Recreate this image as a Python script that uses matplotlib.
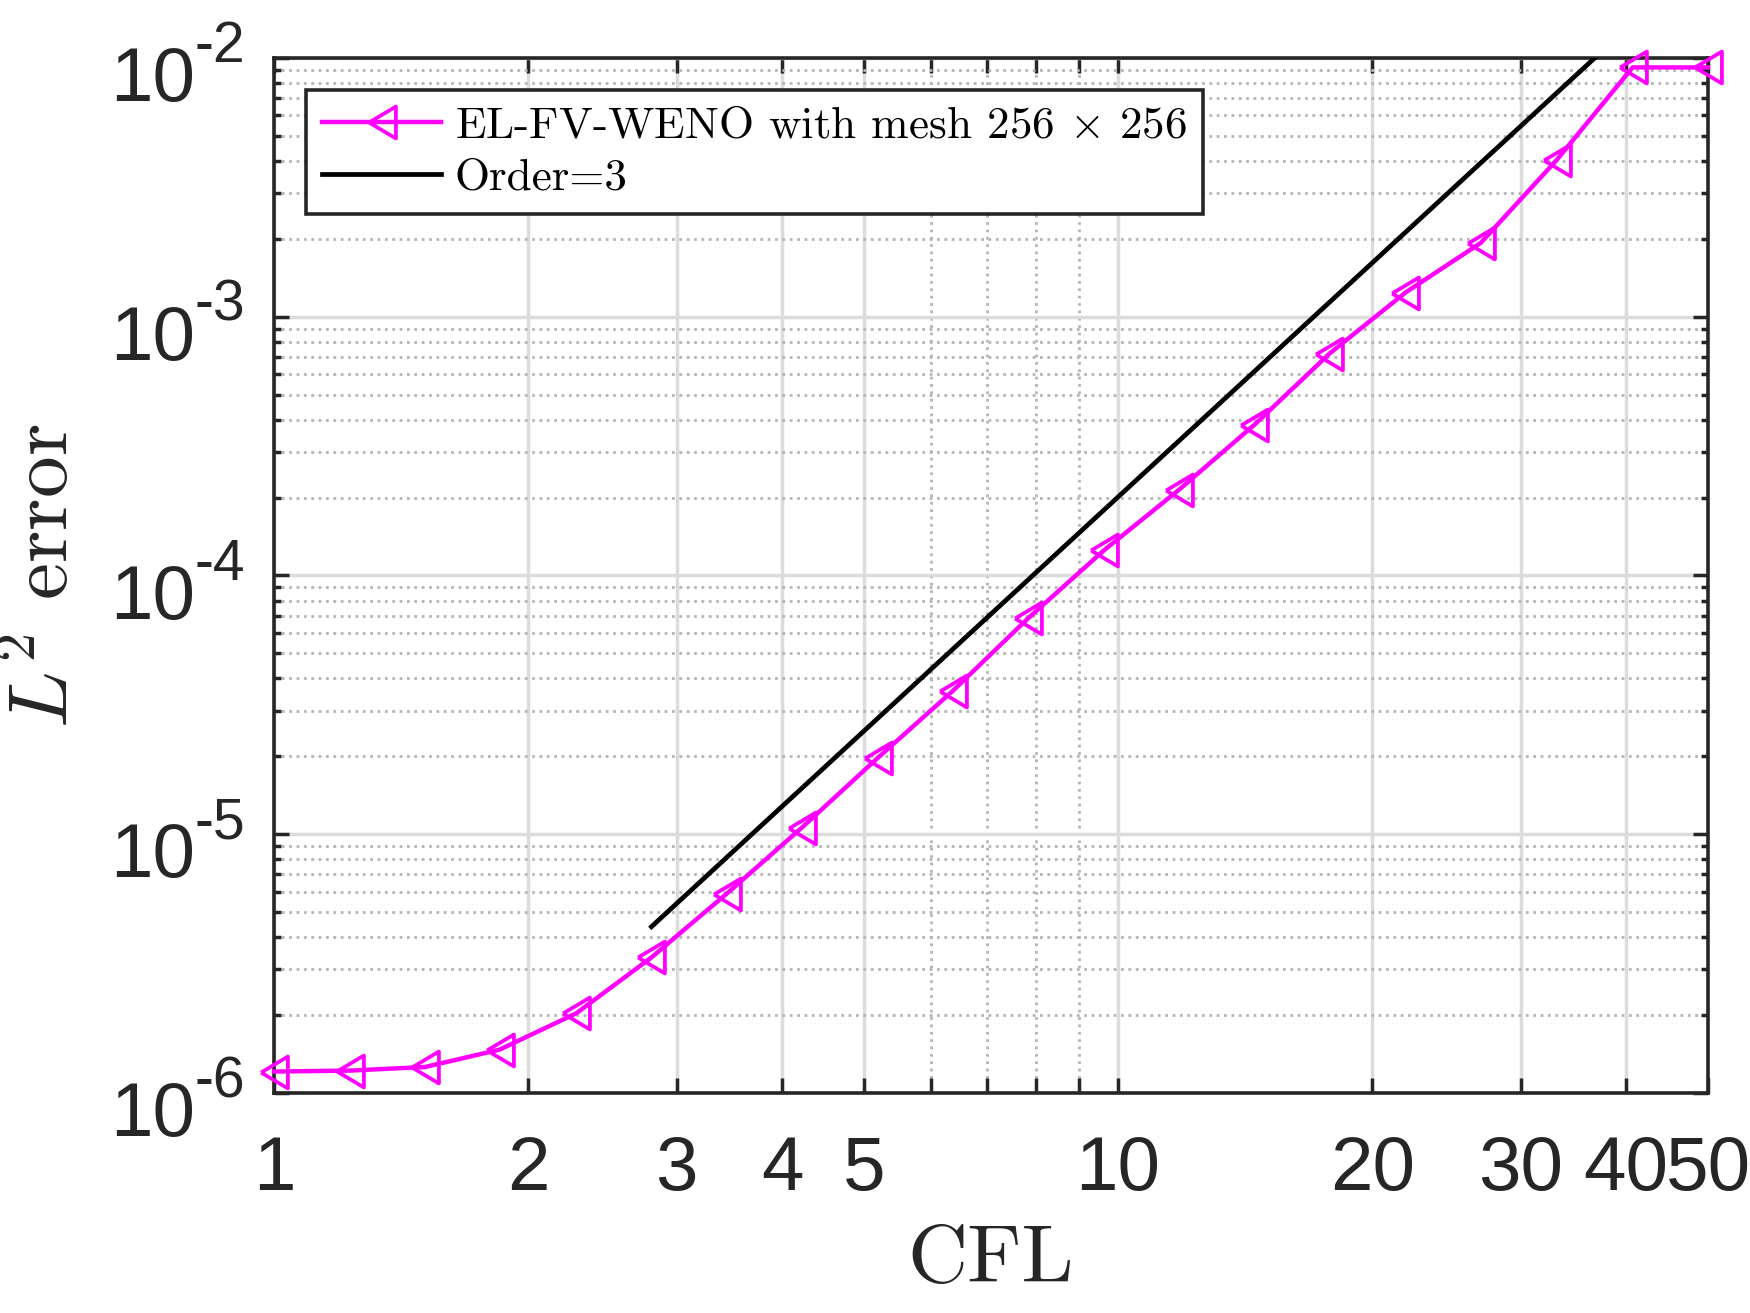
import numpy as np
import matplotlib
matplotlib.use('Agg')
import matplotlib.pyplot as plt
from matplotlib import ticker

# data
cfl = [1.0, 1.23, 1.51, 1.85, 2.28, 2.80, 3.44, 4.22, 5.19, 6.37,
       7.83, 9.62, 11.8, 14.5, 17.8, 21.9, 26.9, 33.1, 40.7, 50.0]
l2_err = [1.21e-6, 1.22e-6, 1.26e-6, 1.47e-6, 2.03e-6, 3.34e-6, 5.90e-6, 1.06e-5,
          1.97e-5, 3.58e-5, 6.85e-5, 1.25e-4, 2.14e-4, 3.82e-4, 7.2e-4, 1.24e-3,
          1.93e-3, 4.04e-3, 9.2e-3, 9.2e-3]

# reference slope-3 line
order_x = [2.80, 36.7]
order_y = [4.39e-6, 1.0e-2]

xticks = [1, 2, 3, 4, 5, 10, 20, 30, 40, 50]
xticklabels = ['1', '2', '3', '4', '5', '10', '20', '30', '40', '50']
xminor = [6, 7, 8, 9]
ydecades = [-6, -5, -4, -3, -2]

plt.rcParams['mathtext.fontset'] = 'cm'
plt.rcParams['font.family'] = ['Liberation Sans', 'DejaVu Sans']

dark = '#262626'
magenta = '#ff00ff'

fig = plt.figure(figsize=(17.5, 13.13), dpi=100)
ax = fig.add_axes([0.1566, 0.1676, 0.8194, 0.7882])
ax.set_xscale('log')
ax.set_yscale('log')
ax.set_xlim(1, 50)
ax.set_ylim(1e-6, 1e-2)

# triangle pointing left, a bit narrower than tall
tri = [(-0.84, 0.0), (0.84, 1.0), (0.84, -1.0), (-0.84, 0.0)]
ax.plot(cfl, l2_err, color=magenta, lw=3.2, marker=tri, markersize=23,
        markerfacecolor='none', markeredgecolor=magenta, markeredgewidth=2.7,
        clip_on=False, zorder=4, label=r'EL-FV-WENO with mesh 256 $\times$ 256')
ax.plot(order_x, order_y, color='black', lw=3.4, zorder=3, label='Order=3')

# ticks
ax.set_xticks(xticks)
ax.set_xticklabels(xticklabels)
ax.set_xticks(xminor, minor=True)
ax.xaxis.set_minor_formatter(ticker.NullFormatter())
ax.set_yticks([10.0 ** k for k in ydecades])
ax.set_yticklabels([])
ax.yaxis.set_minor_locator(ticker.LogLocator(base=10, subs=np.arange(2, 10), numticks=20))
ax.yaxis.set_minor_formatter(ticker.NullFormatter())

ax.tick_params(which='both', direction='in', top=True, right=True, width=2.5, color=dark)
ax.tick_params(which='major', length=11)
ax.tick_params(axis='y', which='minor', length=5)
ax.tick_params(axis='x', which='minor', length=11)
ax.tick_params(axis='x', which='major', labelsize=55, pad=30, labelcolor=dark)

# y tick labels 10^k, drawn as base + superscript
for k in ydecades:
    ax.annotate('10', xy=(0, 10.0 ** k), xycoords=('axes fraction', 'data'),
                xytext=(-57, -31), textcoords='offset points',
                ha='right', va='baseline', fontsize=55, color=dark, annotation_clip=False)
    ax.annotate('-%d' % abs(k), xy=(0, 10.0 ** k), xycoords=('axes fraction', 'data'),
                xytext=(-57, -3), textcoords='offset points',
                ha='left', va='baseline', fontsize=41, color=dark, annotation_clip=False)

# grid
ax.grid(True, which='major', color='#dcdcdc', lw=2.5, ls='-', zorder=0)
ax.grid(True, which='minor', axis='y', color='#b5b5b5', lw=2.0, ls=':', zorder=0)
ax.grid(True, which='minor', axis='x', color='#b5b5b5', lw=2.0, ls=':', zorder=0)
ax.set_axisbelow(True)

for sp in ax.spines.values():
    sp.set_color(dark)
    sp.set_linewidth(2.6)

ax.set_xlabel('CFL', family='cmr10', fontsize=60, color=dark, labelpad=14)
ax.set_ylabel(r'$L^2$ error', family='cmr10', fontsize=60, color=dark)
ax.yaxis.set_label_coords(-0.1325, 0.5)

leg = ax.legend(loc='upper left', bbox_to_anchor=(0.0223, 0.969), borderaxespad=0,
                prop={'family': 'cmr10', 'size': 32.5}, numpoints=1, handlelength=2.65,
                handletextpad=0.3, borderpad=0.35, labelspacing=0.25,
                fancybox=False, framealpha=1, edgecolor=dark)
leg.get_frame().set_linewidth(2.6)

fig.savefig('out.png', dpi=100)
